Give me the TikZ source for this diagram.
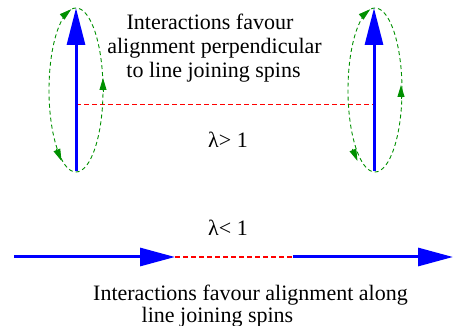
\documentclass[tikz,border=0pt]{standalone}
\usepackage{fontspec}
\setmainfont{Liberation Serif}
\usetikzlibrary{arrows.meta}
\definecolor{spinblue}{RGB}{0,0,255}
\definecolor{figgreen}{RGB}{0,144,0}
\tikzset{
  spin/.style={draw=spinblue, line width=3pt, -{Triangle[length=37pt,width=18pt]}},
  hspin/.style={draw=spinblue, line width=3pt, -{Triangle[length=35pt,width=18pt]}},
  bond/.style={draw=red, line width=1.1pt, dash pattern=on 5pt off 3pt},
  orbit/.style={draw=figgreen, line width=0.9pt, dash pattern=on 4pt off 3pt},
  orbtip/.style={draw=figgreen, fill=figgreen, line width=0.9pt, -{Triangle[length=12pt,width=7pt]}},
  lbl/.style={font=\fontsize{22}{24}\selectfont, inner sep=0pt, anchor=base}
}
\begin{document}
\begin{tikzpicture}[x=1pt,y=-1pt]
\useasboundingbox (0,0) rectangle (453,326);
% coordinates
\coordinate (Lb) at (76,171);
\coordinate (Lt) at (76,8);
\coordinate (Lm) at (76,104.5);
\coordinate (Rb) at (374,171);
\coordinate (Rt) at (374,8);
\coordinate (Rm) at (374,104.5);
\coordinate (B1s) at (14,257);
\coordinate (B1e) at (175,257);
\coordinate (B2s) at (293,257);
\coordinate (B2e) at (453,257);
% bonds (dashed red) drawn first
\draw[bond] (Lm) -- (Rm);
\draw[bond] (B1e) -- (B2s);
% left spin
\draw[orbit] (76,90) ellipse [x radius=27pt, y radius=82pt];
\draw[spin] (Lb) -- (Lt);
\coordinate (La1) at (66.8,13.0); \coordinate (La2) at (71.3,9.2);
\coordinate (La3) at (103,92);   \coordinate (La4) at (103,78);
\coordinate (La5) at (56.5,149); \coordinate (La6) at (61.5,161);
\draw[orbtip] (La1) -- (La2);
\draw[orbtip] (La3) -- (La4);
\draw[orbtip] (La5) -- (La6);
% right spin
\draw[orbit] (375,90) ellipse [x radius=27pt, y radius=82pt];
\draw[spin] (Rb) -- (Rt);
\coordinate (Ra1) at (365.8,13.0); \coordinate (Ra2) at (370.3,9.2);
\coordinate (Ra3) at (401,99);    \coordinate (Ra4) at (401,85);
\coordinate (Ra5) at (352.5,149); \coordinate (Ra6) at (357.5,161);
\draw[orbtip] (Ra1) -- (Ra2);
\draw[orbtip] (Ra3) -- (Ra4);
\draw[orbtip] (Ra5) -- (Ra6);
% bottom spins
\draw[hspin] (B1s) -- (B1e);
\draw[hspin] (B2s) -- (B2e);
% texts
\node[lbl] (t1) at (210,30) {Interactions favour};
\node[lbl] (t2) at (214.5,54) {alignment perpendicular};
\node[lbl] (t3) at (213.5,78) {to line joining spins};
\node[lbl] (lg) at (228,148) {λ> 1};
\node[lbl] (ll) at (228,236) {λ< 1};
\node[lbl] (b1) at (250.5,301) {Interactions favour alignment along};
\node[lbl] (b2) at (217.5,322) {line joining spins};
\end{tikzpicture}
\end{document}
